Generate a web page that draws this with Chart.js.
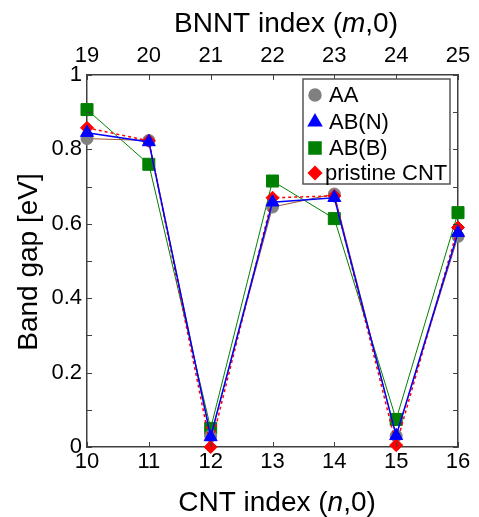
<!DOCTYPE html>
<html>
<head>
<meta charset="utf-8">
<script src="https://cdn.jsdelivr.net/npm/chart.js@4.4.0/dist/chart.umd.min.js"></script>
<style>
  html, body { margin: 0; padding: 0; background: #fff; }
  #wrap { width: 479px; height: 517px; }
</style>
</head>
<body>
<div id="wrap"><canvas id="gapChart" width="479" height="517"></canvas></div>
<script>
// band gap vs. tube index
const cntIndex = [10, 11, 12, 13, 14, 15, 16];
const bnntIndex = [19, 20, 21, 22, 23, 24, 25];
const gapAA = [0.829, 0.824, 0.030, 0.645, 0.680, 0.030, 0.566];
const gapABN = [0.845, 0.820, 0.027, 0.658, 0.670, 0.030, 0.576];
const gapABB = [0.907, 0.760, 0.050, 0.715, 0.614, 0.074, 0.630];
const gapPristine = [0.858, 0.823, 0.000, 0.670, 0.675, 0.005, 0.590];
const yTicks = [0, 0.2, 0.4, 0.6, 0.8, 1];
const seriesNames = ["AA", "AB(N)", "AB(B)", "pristine CNT"];

const FONT = "Arial, 'Liberation Sans', sans-serif";
const AXIS_COLOR = "#404040";

function pts(values) {
    return cntIndex.map((n, i) => ({ x: n, y: values[i] }));
}

// draws text made of plain/italic pieces, centred on (cx, cy)
function richText(ctx, parts, cx, cy, size) {
    let total = 0;
    parts.forEach(p => {
        ctx.font = (p[1] ? "italic " : "") + size + "px " + FONT;
        total += ctx.measureText(p[0]).width;
    });
    let x = cx - total / 2;
    ctx.textBaseline = "middle";
    ctx.textAlign = "left";
    parts.forEach(p => {
        ctx.font = (p[1] ? "italic " : "") + size + "px " + FONT;
        ctx.fillText(p[0], x, cy);
        x += ctx.measureText(p[0]).width;
    });
}

const frameExtras = {
    id: "frameExtras",
    afterDraw(chart) {
        const ctx = chart.ctx;
        const area = chart.chartArea;
        const xs = chart.scales.x;
        const ys = chart.scales.y;
        ctx.save();

        // inward ticks
        ctx.strokeStyle = AXIS_COLOR;
        ctx.lineWidth = 1;
        ctx.beginPath();
        cntIndex.forEach(n => {
            const px = Math.round(xs.getPixelForValue(n)) + 0.5;
            ctx.moveTo(px, area.bottom);
            ctx.lineTo(px, area.bottom - 5);
            ctx.moveTo(px, area.top);
            ctx.lineTo(px, area.top + 5);
        });
        for (let k = 0; k <= 10; k++) {
            const py = Math.round(ys.getPixelForValue(k / 10)) + 0.5;
            ctx.moveTo(area.left, py);
            ctx.lineTo(area.left + 5, py);
            ctx.moveTo(area.right, py);
            ctx.lineTo(area.right - 5, py);
        }
        ctx.stroke();

        // axis titles
        ctx.fillStyle = "#000";
        richText(ctx, [["CNT index (", false], ["n", true], [",0)", false]], 277, 503, 28);
        richText(ctx, [["BNNT index (", false], ["m", true], [",0)", false]], 286, 24, 28);
        ctx.save();
        ctx.translate(29, 262);
        ctx.rotate(-Math.PI / 2);
        richText(ctx, [["Band gap [eV]", false]], 0, 0, 28);
        ctx.restore();

        // legend
        const box = { x: 303, y: 79, w: 147, h: 105 };
        ctx.fillStyle = "#fff";
        ctx.fillRect(box.x, box.y, box.w, box.h);
        ctx.strokeStyle = "#555";
        ctx.lineWidth = 1.5;
        ctx.strokeRect(box.x, box.y, box.w, box.h);
        const rowsY = [95, 122, 148, 173];
        const legendSets = [2, 0, 3, 1]; // dataset index per legend row
        ctx.font = "22px " + FONT;
        ctx.textBaseline = "middle";
        ctx.textAlign = "left";
        legendSets.forEach((di, i) => {
            const ds = chart.data.datasets[di];
            ctx.fillStyle = ds.pointBackgroundColor;
            ctx.strokeStyle = ds.pointBackgroundColor;
            Chart.helpers.drawPoint(ctx, {
                pointStyle: ds.pointStyle,
                radius: ds.pointRadius,
                rotation: 0,
                borderWidth: 1
            }, 315, rowsY[i]);
            ctx.fillStyle = "#000";
            ctx.fillText(seriesNames[i], i === 3 ? 325 : 329, rowsY[i] + 1);
        });
        ctx.restore();
    }
};

const tickFont = { family: FONT, size: 22 };
const noGrid = { display: false, drawTicks: false };
const frameBorder = { display: true, color: AXIS_COLOR, width: 1.5 };

new Chart(document.getElementById("gapChart"), {
    type: "line",
    data: {
        datasets: [
            {
                label: seriesNames[1],
                data: pts(gapABN),
                borderColor: "#0000ff",
                borderWidth: 1.5,
                pointStyle: "triangle",
                pointRadius: 7.5,
                pointBackgroundColor: "#0000ff",
                pointBorderColor: "#0000ff",
                pointBorderWidth: 1,
                clip: false,
                order: 0
            },
            {
                label: seriesNames[3],
                data: pts(gapPristine),
                borderColor: "#ff0000",
                borderWidth: 1.5,
                borderDash: [3, 3],
                pointStyle: "rectRot",
                pointRadius: 6.5,
                pointBackgroundColor: "#ff0000",
                pointBorderColor: "#ff0000",
                pointBorderWidth: 1,
                clip: false,
                order: 1
            },
            {
                label: seriesNames[0],
                data: pts(gapAA),
                borderColor: "#a0522d",
                borderWidth: 1,
                pointStyle: "circle",
                pointRadius: 6,
                pointBackgroundColor: "#808080",
                pointBorderColor: "#808080",
                pointBorderWidth: 1,
                clip: false,
                order: 2
            },
            {
                label: seriesNames[2],
                data: pts(gapABB),
                borderColor: "#008000",
                borderWidth: 1,
                pointStyle: "rect",
                pointRadius: 8.5,
                pointBackgroundColor: "#008000",
                pointBorderColor: "#008000",
                pointBorderWidth: 1,
                clip: false,
                order: 3
            }
        ]
    },
    options: {
        responsive: false,
        animation: false,
        layout: { padding: 0 },
        plugins: {
            legend: { display: false },
            tooltip: { enabled: false }
        },
        scales: {
            x: {
                type: "linear",
                position: "bottom",
                min: cntIndex[0],
                max: cntIndex[cntIndex.length - 1],
                grid: noGrid,
                border: frameBorder,
                ticks: { stepSize: 1, font: tickFont, color: "#000", padding: 2, autoSkip: false, maxRotation: 0 },
                afterFit(s) { s.height = 70; }
            },
            x2: {
                type: "linear",
                position: "top",
                min: bnntIndex[0],
                max: bnntIndex[bnntIndex.length - 1],
                grid: noGrid,
                border: frameBorder,
                ticks: { stepSize: 1, font: tickFont, color: "#000", padding: 6, autoSkip: false, maxRotation: 0 },
                afterFit(s) { s.height = 75; }
            },
            y: {
                position: "left",
                min: 0,
                max: 1,
                grid: noGrid,
                border: frameBorder,
                afterBuildTicks(s) { s.ticks = yTicks.map(v => ({ value: v })); },
                ticks: {
                    font: tickFont,
                    color: "#000",
                    padding: 5,
                    callback: v => (v === 0 || v === 1) ? String(v) : v.toFixed(1)
                },
                afterFit(s) { s.width = 87; }
            },
            y2: {
                position: "right",
                min: 0,
                max: 1,
                grid: noGrid,
                border: frameBorder,
                ticks: { display: false },
                afterFit(s) { s.width = 21; }
            }
        }
    },
    plugins: [frameExtras]
});
</script>
</body>
</html>
